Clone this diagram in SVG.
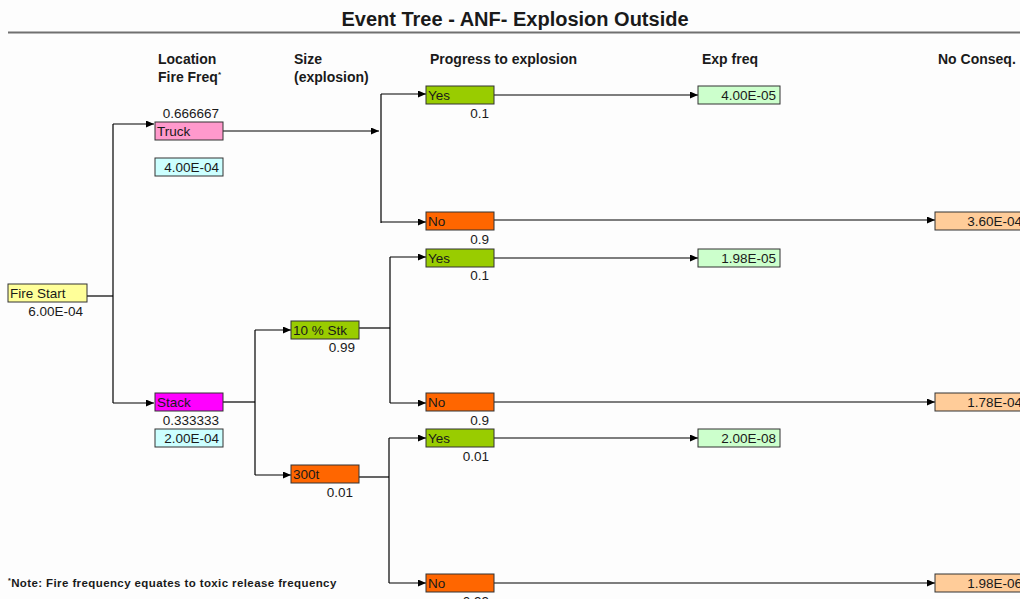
<svg xmlns="http://www.w3.org/2000/svg" width="1020" height="599" viewBox="0 0 1020 599">
<defs>
<marker id="ah" markerUnits="userSpaceOnUse" markerWidth="9" markerHeight="8" refX="8" refY="3.5" orient="auto">
<path d="M0,0 L8,3.5 L0,7 z" fill="#000"/>
</marker>
<style>
text{font-family:"Liberation Sans",Arial,sans-serif;fill:#1a1a1a}
.hd{font-size:14px;font-weight:bold}
.bx{stroke:#333;stroke-width:1}
.bt{font-size:13.5px}
.num{font-size:13.5px;text-anchor:end}
.ln{stroke:#000;stroke-width:1.2;fill:none}
.ar{stroke:#000;stroke-width:1.2;fill:none;marker-end:url(#ah)}
.fire{fill:#ffff99}.truck{fill:#ff99cc}.stack{fill:#ff00ff}.cyan{fill:#ccffff}
.grn{fill:#99cc00}.org{fill:#ff6600}.lgrn{fill:#ccffcc}.peach{fill:#ffcc99}
</style>
</defs>
<rect width="1020" height="599" fill="#fdfdfd"/>
<g id="title">
<text x="515" y="26" text-anchor="middle" style="font-size:20px;font-weight:bold">Event Tree - ANF- Explosion Outside</text>
<line x1="8" y1="32.5" x2="1020" y2="32.5" stroke="#707070" stroke-width="2"/>
</g>
<g id="headers">
<text class="hd" x="158" y="64">Location</text>
<text class="hd" x="158" y="82">Fire Freq<tspan style="font-size:8px" dy="-5">*</tspan></text>
<text class="hd" x="294" y="64">Size</text>
<text class="hd" x="294" y="82">(explosion)</text>
<text class="hd" x="430" y="64">Progress to explosion</text>
<text class="hd" x="702" y="64">Exp freq</text>
<text class="hd" x="938" y="64">No Conseq.</text>
</g>
<g id="connectors">
<path class="ln" d="M87,296 H113"/>
<path class="ln" d="M113,124 V403"/>
<path class="ar" d="M113,124 H154"/>
<path class="ar" d="M113,403 H154"/>
<path class="ar" d="M223,131 H379"/>
<path class="ln" d="M381,94 V223"/>
<path class="ar" d="M381,94 H426"/>
<path class="ar" d="M381,222 H426"/>
<path class="ar" d="M494,95 H698"/>
<path class="ar" d="M494,220 H935"/>
<path class="ln" d="M223,402 H255"/>
<path class="ln" d="M255,330 V475"/>
<path class="ar" d="M255,330 H291"/>
<path class="ar" d="M255,475 H291"/>
<path class="ln" d="M359,328 H390"/>
<path class="ln" d="M390,257 V403"/>
<path class="ar" d="M390,257 H426"/>
<path class="ar" d="M390,403 H426"/>
<path class="ar" d="M494,258 H698"/>
<path class="ar" d="M494,402 H935"/>
<path class="ln" d="M359,477 H389"/>
<path class="ln" d="M389,438 V583"/>
<path class="ar" d="M389,438 H426"/>
<path class="ar" d="M389,583 H426"/>
<path class="ar" d="M494,438 H698"/>
<path class="ar" d="M494,583 H935"/>
</g>
<g id="fire-start">
<rect class="bx fire" x="8" y="284" width="79" height="18"/>
<text class="bt" x="10" y="298">Fire Start</text>
<text class="num" x="83" y="316">6.00E-04</text>
</g>
<g id="truck">
<text class="num" x="219" y="118">0.666667</text>
<rect class="bx truck" x="155" y="122" width="68" height="18"/>
<text class="bt" x="157" y="136">Truck</text>
<rect class="bx cyan" x="155" y="158" width="68" height="18"/>
<text class="num" x="219" y="172">4.00E-04</text>
</g>
<g id="stack">
<rect class="bx stack" x="155" y="393" width="68" height="18"/>
<text class="bt" x="157" y="407">Stack</text>
<text class="num" x="219" y="425">0.333333</text>
<rect class="bx cyan" x="155" y="429" width="68" height="18"/>
<text class="num" x="219" y="443">2.00E-04</text>
</g>
<g id="stk10">
<rect class="bx grn" x="291" y="321" width="68" height="18"/>
<text class="bt" x="293" y="335">10 % Stk</text>
<text class="num" x="355" y="352">0.99</text>
</g>
<g id="t300">
<rect class="bx org" x="291" y="465" width="68" height="18"/>
<text class="bt" x="293" y="479">300t</text>
<text class="num" x="353" y="497">0.01</text>
</g>
<g id="yes1">
<rect class="bx grn" x="426" y="86" width="68" height="18"/>
<text class="bt" x="428" y="100">Yes</text>
<text class="num" x="489" y="118">0.1</text>
</g>
<g id="no1">
<rect class="bx org" x="426" y="212" width="68" height="18"/>
<text class="bt" x="428" y="226">No</text>
<text class="num" x="489" y="244">0.9</text>
</g>
<g id="yes2">
<rect class="bx grn" x="426" y="249" width="68" height="18"/>
<text class="bt" x="428" y="263">Yes</text>
<text class="num" x="489" y="280">0.1</text>
</g>
<g id="no2">
<rect class="bx org" x="426" y="393" width="68" height="18"/>
<text class="bt" x="428" y="407">No</text>
<text class="num" x="489" y="425">0.9</text>
</g>
<g id="yes3">
<rect class="bx grn" x="426" y="429" width="68" height="18"/>
<text class="bt" x="428" y="443">Yes</text>
<text class="num" x="489" y="461">0.01</text>
</g>
<g id="no3">
<rect class="bx org" x="426" y="574" width="68" height="18"/>
<text class="bt" x="428" y="588">No</text>
<text class="num" x="489" y="606">0.99</text>
</g>
<g id="exp1">
<rect class="bx lgrn" x="698" y="86" width="82" height="18"/>
<text class="num" x="776" y="100">4.00E-05</text>
</g>
<g id="exp2">
<rect class="bx lgrn" x="698" y="249" width="82" height="18"/>
<text class="num" x="776" y="263">1.98E-05</text>
</g>
<g id="exp3">
<rect class="bx lgrn" x="698" y="429" width="82" height="18"/>
<text class="num" x="776" y="443">2.00E-08</text>
</g>
<g id="nc1">
<rect class="bx peach" x="935" y="212" width="90" height="18"/>
<text class="num" x="1022" y="226">3.60E-04</text>
</g>
<g id="nc2">
<rect class="bx peach" x="935" y="393" width="90" height="18"/>
<text class="num" x="1022" y="407">1.78E-04</text>
</g>
<g id="nc3">
<rect class="bx peach" x="935" y="574" width="90" height="18"/>
<text class="num" x="1022" y="588">1.98E-06</text>
</g>
<g id="note">
<text x="8" y="587" style="font-size:11.5px;font-weight:bold;letter-spacing:0.4px"><tspan style="font-size:7px" dy="-4">*</tspan><tspan dy="4">Note: Fire frequency equates to toxic release frequency</tspan></text>
</g>
</svg>
